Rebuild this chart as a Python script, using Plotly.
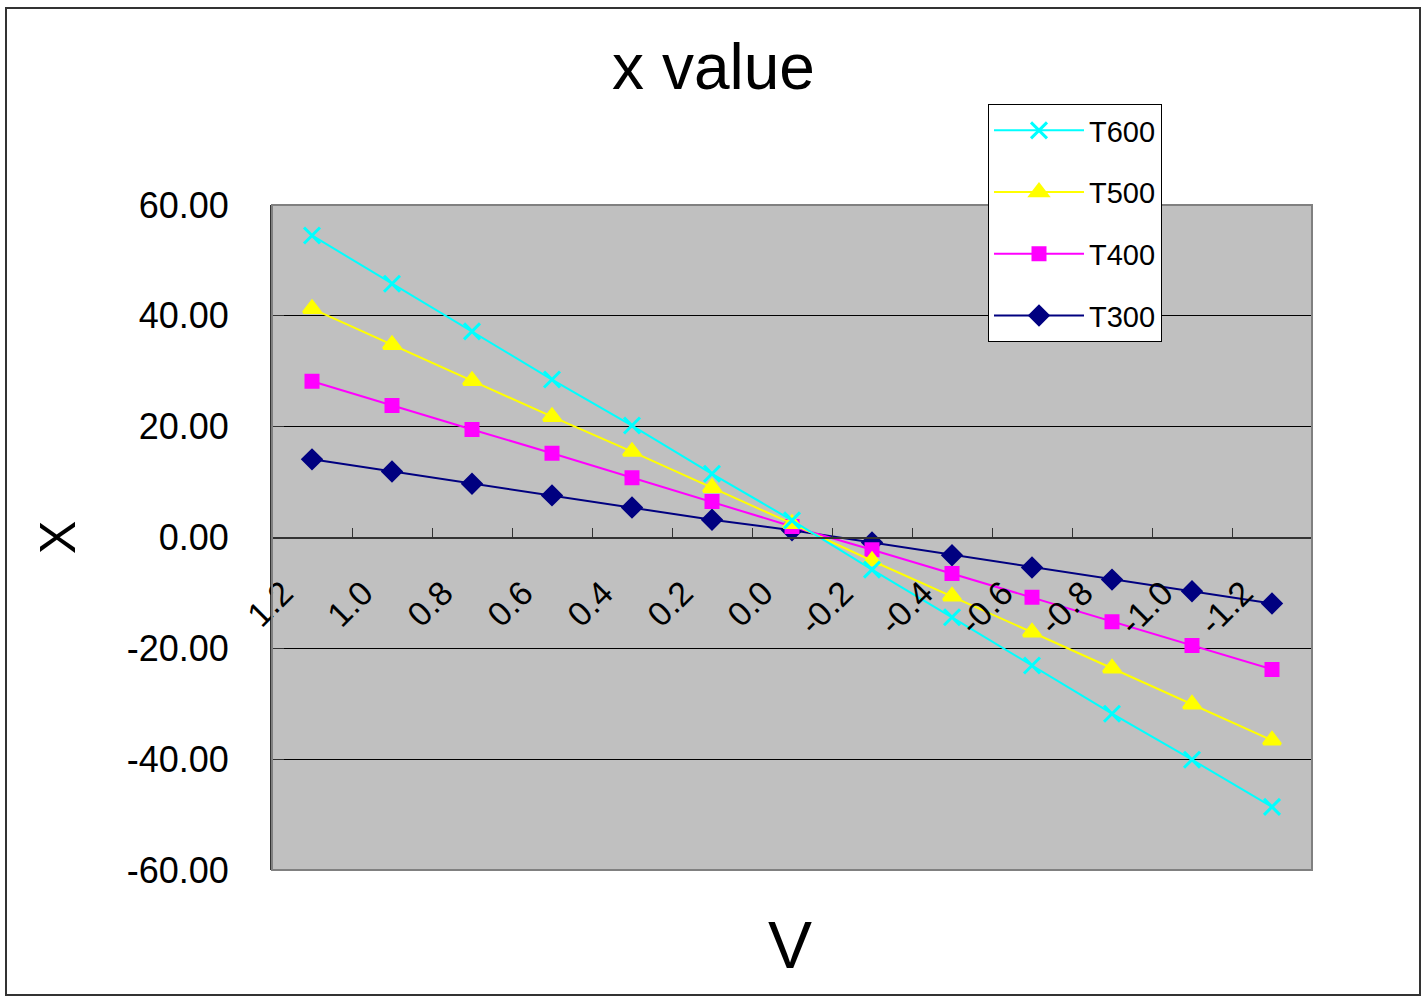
import plotly.graph_objects as go
import numpy as np

categories = ["1.2", "1.0", "0.8", "0.6", "0.4", "0.2", "0.0",
              "-0.2", "-0.4", "-0.6", "-0.8", "-1.0", "-1.2"]

T600 = [54.5, 45.8, 37.2, 28.5, 20.2, 11.5, 3.1, -5.8, -14.4, -23.1, -31.8, -40.1, -48.6]
T500 = [41.3, 34.8, 28.3, 21.8, 15.5, 9.0, 2.5, -4.2, -10.6, -17.1, -23.6, -30.1, -36.6]
T400 = [28.2, 23.8, 19.5, 15.2, 10.8, 6.5, 2.0, -2.2, -6.5, -10.8, -15.2, -19.5, -23.8]
T300 = [14.1, 11.9, 9.7, 7.6, 5.4, 3.2, 1.3, -0.9, -3.2, -5.4, -7.6, -9.7, -11.9]

y_ticks = [-60, -40, -20, 0, 20, 40, 60]
y_ticktext = ["-60.00", "-40.00", "-20.00", "0.00", "20.00", "40.00", "60.00"]

series = [
    ("T300", T300, "#000080", "diamond", 14, 4),
    ("T400", T400, "#FF00FF", "square", 12, 3),
    ("T500", T500, "#FFFF00", "triangle-up", 15, 2),
    ("T600", T600, "#00FFFF", "x-thin-open", 16, 1),
]

x_idx = np.arange(len(categories))

fig = go.Figure()
for name, vals, color, sym, size, rank in series:
    fig.add_trace(go.Scatter(
        x=x_idx, y=vals, name=name, mode="lines+markers",
        legendgroup=name, legendrank=rank,
        line=dict(color=color, width=2),
        marker=dict(symbol=sym, size=size, color=color,
                    line=dict(color=color, width=3)),
    ))

W, H = 1427, 1001
L, R, T, B = 272, 1312, 205, 870
pw, ph = R - L, B - T

def px(xp):
    return (xp - L) / pw

def py(yp):
    return (B - yp) / ph

tickpos = list(np.arange(len(categories) + 1) - 0.5)
ticktxt = categories + [""]

fig.update_layout(
    width=W, height=H,
    margin=dict(l=L, r=W - R, t=T, b=H - B),
    paper_bgcolor="white",
    plot_bgcolor="#C0C0C0",
    font=dict(family="Liberation Sans, Arial, sans-serif", color="black"),
    title=dict(text="x value", x=0.5, xanchor="center", y=1 - 67 / H, yanchor="middle",
               font=dict(size=64, color="black")),
    showlegend=True,
    legend=dict(
        x=px(988), y=py(104), xanchor="left", yanchor="top",
        bgcolor="white", bordercolor="black", borderwidth=1,
        font=dict(size=29),
        traceorder="grouped", tracegroupgap=21,
        itemwidth=90,
    ),
    xaxis=dict(
        range=[-0.5, len(categories) - 0.5],
        tickvals=tickpos, ticktext=ticktxt,
        tickangle=-45,
        ticks="inside", ticklen=9, tickcolor="#333333", tickwidth=1,
        showgrid=False, zeroline=False,
        showline=True, linecolor="#333333", linewidth=2,
        anchor="free", position=0.5,
        tickfont=dict(size=34),
        ticklabelshift=11, ticklabelstandoff=21,
        title=None,
    ),
    yaxis=dict(
        range=[-60, 60], tickvals=y_ticks, ticktext=y_ticktext,
        ticks="inside", ticklen=12, tickcolor="#333333",
        showgrid=True, gridcolor="black", gridwidth=1,
        zeroline=False,
        showline=True, linecolor="#333333", linewidth=2,
        tickfont=dict(size=36),
        ticklabelstandoff=34,
        title=None,
    ),
    shapes=[
        dict(type="rect", xref="paper", yref="paper", x0=0, x1=1, y0=0, y1=1,
             line=dict(color="#808080", width=2), fillcolor="rgba(0,0,0,0)", layer="above"),
        dict(type="rect", xref="paper", yref="paper",
             x0=px(6), x1=px(1420), y0=py(995), y1=py(8),
             line=dict(color="#333333", width=2), fillcolor="rgba(0,0,0,0)"),
    ],
    annotations=[
        dict(text="X", xref="paper", yref="paper", x=px(58), y=py(538),
             showarrow=False, textangle=-90, font=dict(size=50, color="black"),
             xanchor="center", yanchor="middle"),
        dict(text="V", xref="paper", yref="paper", x=px(790), y=py(945),
             showarrow=False, font=dict(size=66, color="black"),
             xanchor="center", yanchor="middle"),
    ],
)

fig.write_html("out.html")
